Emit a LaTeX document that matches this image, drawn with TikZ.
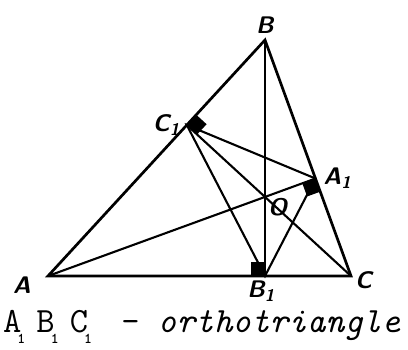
\documentclass[tikz,border=0pt]{standalone}
\usetikzlibrary{calc, math, positioning}

% filled right-angle mark at #1 between the directions to #2 and #3
\newcommand{\rtsq}[3]{%
\path ($(#1)!\s pt!(#2)$) coordinate (sqa) ($(#1)!\s pt!(#3)$) coordinate (sqb);
\fill (#1) -- (sqa) -- ($(sqa)+(sqb)-(#1)$) -- (sqb) -- cycle;
}
\newcommand{\capsub}{\makebox[15pt][l]{\kern-4pt\raisebox{-11pt}{\fontsize{15}{15}\selectfont\bfseries 1}}}

\begin{document}
\begin{tikzpicture}[x=1pt, y=-1pt,
  side/.style={line width=2.7pt},
  seg/.style={line width=2.1pt},
  lbl/.style={font=\fontsize{24}{24}\selectfont\sffamily\bfseries\itshape, inner sep=1pt}]
\tikzmath{
\s=14;
}
\useasboundingbox (0,0) rectangle (408,349);

\coordinate (A) at (48,276);
\coordinate (B) at (265,40);
\coordinate (C) at (351,276);

\coordinate (A1) at ($(B)!(A)!(C)$);
\coordinate (B1) at ($(A)!(B)!(C)$);
\coordinate (C1) at ($(A)!(C)!(B)$);
\coordinate (O) at (intersection of A--A1 and B--B1);

\draw[side] (A) -- (B) -- (C) -- cycle;

\draw[seg] (A) -- (A1);
\draw[seg] (B) -- (B1);
\draw[seg] (C) -- (C1);

\draw[seg] (C1) -- (B1) -- (A1) -- cycle;

\rtsq{C1}{B}{C}
\rtsq{A1}{A}{C}
\rtsq{B1}{A}{B}

\node[lbl, above=5pt of B] (lB) {B};
\node[lbl, below left=0pt and 16pt of A] (lA) {A};
\node[lbl, right=3pt of C, yshift=-4pt] (lC) {C};
\node[lbl, left=6pt of C1] (lC1) {C\textsubscript{1}};
\node[lbl, right=7pt of A1] (lA1) {A\textsubscript{1}};
\node[lbl, below=4pt of B1, xshift=-4pt] (lB1) {B\textsubscript{1}};
\node[lbl, below right=0pt and 2pt of O] (lO) {O};

\node[anchor=base west, inner sep=0pt, font=\fontsize{35.5}{36}\selectfont\ttfamily] (cap) at (3,332)
  {A\capsub B\capsub C\capsub{} - \itshape orthotriangle};
\end{tikzpicture}
\end{document}
